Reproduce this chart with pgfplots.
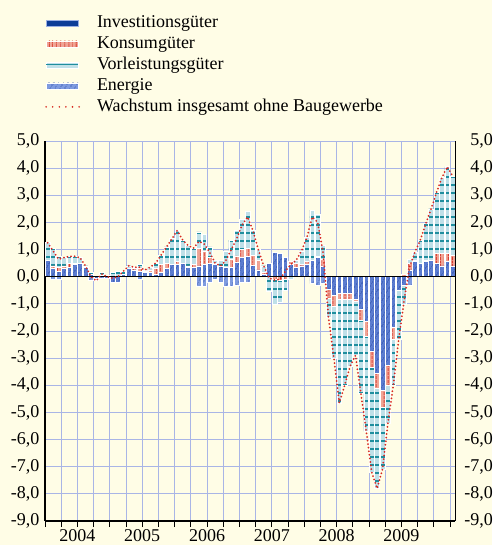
\documentclass[border=0pt]{standalone}
\usepackage{fontspec}
\setmainfont{Liberation Serif}
\usepackage{pgfplots}
\usepackage{pgfplotstable}
\pgfplotsset{compat=1.18}
\usetikzlibrary{patterns,patterns.meta,backgrounds}

\definecolor{cream}{HTML}{FFFDE6}
\definecolor{gridblue}{HTML}{A9B5E6}
\definecolor{invfill}{HTML}{5A7BD0}
\definecolor{invline}{HTML}{1E3E98}
\definecolor{invdark}{HTML}{0D3D97}
\definecolor{konfill}{HTML}{F0A494}
\definecolor{konline}{HTML}{D6362A}
\definecolor{vorfill}{HTML}{BFE0E8}
\definecolor{vorline}{HTML}{1F8E9E}
\definecolor{enefill}{HTML}{7F9BE0}
\definecolor{eneline}{HTML}{3A58B0}
\definecolor{linered}{HTML}{D8281F}

% m = month index (0 = Jan 2004)
\pgfplotstableread{
m inv kon vor ene tot
0 0.60 0.00 0.65 0.00 1.25
1 0.30 0.10 0.65 -0.10 0.95
2 0.20 0.15 0.40 -0.10 0.65
3 0.30 0.10 0.30 0.00 0.70
4 0.35 0.15 0.25 0.00 0.75
5 0.45 0.05 0.25 0.00 0.75
6 0.50 0.00 0.20 0.00 0.70
7 0.35 0.00 0.05 0.00 0.40
8 0.10 0.00 0.05 -0.15 0.00
9 -0.05 0.00 -0.05 -0.05 -0.15
10 0.05 0.00 0.10 -0.05 0.10
11 0.00 0.00 0.05 -0.05 0.00
12 -0.20 0.00 0.15 0.00 -0.05
13 -0.20 0.00 0.20 0.00 0.00
14 0.10 0.00 0.10 0.00 0.20
15 0.30 0.00 0.10 0.00 0.40
16 0.25 0.05 0.05 0.00 0.35
17 0.20 0.10 0.15 -0.10 0.35
18 0.15 0.05 0.05 0.00 0.25
19 0.15 0.10 0.10 0.00 0.35
20 0.10 0.20 0.20 0.00 0.50
21 0.15 0.30 0.35 0.00 0.80
22 0.30 0.20 0.60 0.00 1.10
23 0.45 0.00 0.95 0.00 1.40
24 0.45 0.10 1.15 0.00 1.70
25 0.50 0.00 0.85 0.00 1.35
26 0.35 0.05 0.75 0.00 1.15
27 0.33 0.12 0.60 0.00 1.05
28 0.40 0.65 0.60 -0.35 1.30
29 0.45 0.50 0.60 -0.35 1.20
30 0.50 0.20 0.40 -0.20 0.90
31 0.45 0.05 0.10 -0.10 0.50
32 0.40 0.00 0.20 -0.20 0.40
33 0.35 0.00 0.60 -0.35 0.60
34 0.33 0.30 0.72 -0.35 1.00
35 0.52 0.25 0.93 -0.30 1.40
36 0.70 0.30 1.10 -0.20 1.90
37 0.74 0.30 1.36 -0.20 2.20
38 0.43 0.37 0.90 0.00 1.70
39 0.25 0.35 0.40 0.00 1.00
40 0.10 0.05 0.25 0.00 0.40
41 0.50 0.00 -0.55 0.00 -0.05
42 0.90 -0.10 -0.92 0.00 -0.12
43 0.85 -0.15 -0.80 0.00 -0.10
44 0.70 -0.10 -0.40 0.00 0.20
45 0.45 0.10 -0.10 0.00 0.45
46 0.35 0.15 0.10 0.00 0.60
47 0.40 0.05 0.50 0.00 0.95
48 0.45 0.10 0.90 0.00 1.45
49 0.60 0.00 1.85 -0.25 2.20
50 0.70 0.05 1.55 -0.30 2.00
51 0.40 0.25 0.50 -0.25 0.90
52 -0.45 -0.35 -0.70 0.00 -1.50
53 -0.70 -0.40 -1.90 0.00 -3.00
54 -0.60 -0.25 -3.80 0.00 -4.65
55 -0.60 -0.25 -3.15 0.00 -4.00
56 -0.60 -0.25 -2.45 0.00 -3.30
57 -0.85 -0.05 -2.00 0.00 -2.90
58 -1.20 -0.40 -2.70 0.00 -4.30
59 -1.65 -0.55 -3.50 0.00 -5.70
60 -2.75 -0.60 -3.85 0.00 -7.20
61 -3.55 -0.55 -3.70 0.00 -7.80
62 -4.20 -0.60 -2.30 0.00 -7.10
63 -3.25 -0.75 -1.40 0.00 -5.40
64 -1.85 -0.45 -1.70 0.00 -4.00
65 -0.50 0.00 -1.80 0.00 -2.30
66 -0.30 0.10 -0.70 0.00 -0.90
67 0.25 0.25 0.15 -0.30 0.35
68 0.55 0.05 0.30 0.00 0.90
69 0.50 0.00 0.85 0.00 1.35
70 0.55 0.05 1.35 0.00 1.95
71 0.60 0.00 1.90 0.00 2.50
72 0.50 0.35 2.25 0.00 3.10
73 0.40 0.45 2.80 0.00 3.65
74 0.55 0.30 3.20 0.00 4.05
75 0.40 0.40 2.90 0.00 3.70
}\data

\pgfplotsset{
  basebar/.style={ybar, bar width=4.8pt, bar shift=0pt, draw=white, line width=0.6pt, forget plot},
  invbar/.style={basebar, fill=invfill, postaction={pattern={Lines[angle=60,distance=4pt,line width=0.9pt]}, pattern color=invline}},
  konbar/.style={basebar, fill=konfill, postaction={pattern={Lines[angle=90,distance=4pt,line width=1.2pt]}, pattern color=konline}},
  vorbar/.style={basebar, fill=vorfill, postaction={pattern={Lines[angle=0,distance=8pt,line width=1.5pt]}, pattern color=vorline}},
  enebar/.style={basebar, fill=enefill, postaction={pattern={Lines[angle=60,distance=4pt,line width=0.8pt]}, pattern color=eneline}},
  numfmt/.style={/pgf/number format/fixed, /pgf/number format/fixed zerofill, /pgf/number format/precision=1, /pgf/number format/use comma, /pgf/number format/assume math mode=true},
}

\begin{document}
\begin{tikzpicture}[font=\fontsize{18}{21}\selectfont]
\useasboundingbox (0,0) rectangle (492pt,-545pt);
\begin{axis}[
  at={(45pt,-521pt)}, anchor=south west,
  scale only axis, width=410.4pt, height=380pt,
  xmin=-0.5, xmax=75.5, ymin=-9, ymax=5,
  axis x line*=bottom, axis y line*=left,
  axis line style={black, line width=1.2pt, -},
  xtick={-0.5,2.5,...,74.5}, xticklabels={},
  ytick={-9,-8,...,5},
  yticklabel style={numfmt, xshift=4pt},
  tick align=outside, major tick length=6pt,
  xtick style={black, line width=1pt},
  ytick style={draw=none},
  grid=major, major grid style={gridblue, line width=0.9pt},
  extra x ticks={5.5,17.5,29.5,41.5,53.5,65.5},
  extra x tick labels={2004,2005,2006,2007,2008,2009},
  extra x tick style={xmajorgrids=false, major tick length=0pt, xtick style={draw=none}, xticklabel style={yshift=-5pt}},
  legend cell align=left,
  legend style={draw=none, fill=none, at={(axis description cs:0.0,1.339)}, anchor=north west,
    inner sep=0pt, row sep=0pt,
    nodes={inner xsep=2pt, inner ysep=2pt, text height=13pt, text depth=4pt},
    /tikz/every odd column/.append style={column sep=14pt}},
]
\addlegendimage{legend image code/.code={\draw[fill=invdark, draw=invfill!60, line width=0.6pt] (0pt,-3pt) rectangle (32pt,3pt);}}
\addlegendentry{Investitionsgüter}
\addlegendimage{legend image code/.code={\draw[fill=konfill, draw=white, line width=0.6pt, postaction={pattern={Lines[angle=90,distance=4pt,line width=1pt]}, pattern color=konline}] (0pt,-3pt) rectangle (32pt,3pt);}}
\addlegendentry{Konsumgüter}
\addlegendimage{legend image code/.code={\draw[fill=vorfill, draw=white, line width=0.6pt] (0pt,-3pt) rectangle (32pt,3pt); \draw[vorline, line width=1.2pt] (0pt,0pt) -- (32pt,0pt);}}
\addlegendentry{Vorleistungsgüter}
\addlegendimage{legend image code/.code={\draw[fill=enefill, draw=white, line width=0.6pt, postaction={pattern={Lines[angle=60,distance=4pt,line width=0.8pt]}, pattern color=eneline}] (0pt,-3pt) rectangle (32pt,3pt);}}
\addlegendentry{Energie}
\addlegendimage{legend image code/.code={\draw[linered, line width=1.8pt, line cap=round, dash pattern=on 0pt off 6.6pt] (0pt,0pt) -- (34pt,0pt);}}
\addlegendentry{Wachstum insgesamt ohne Baugewerbe}

% positive side (cumulative, drawn from the top segment down)
\addplot[enebar] table[x=m, y expr={max(\thisrow{inv},0)+max(\thisrow{kon},0)+max(\thisrow{vor},0)+max(\thisrow{ene},0)}]{\data};
\addplot[vorbar] table[x=m, y expr={max(\thisrow{inv},0)+max(\thisrow{kon},0)+max(\thisrow{vor},0)}]{\data};
\addplot[konbar] table[x=m, y expr={max(\thisrow{inv},0)+max(\thisrow{kon},0)}]{\data};
\addplot[invbar] table[x=m, y expr={max(\thisrow{inv},0)}]{\data};
% negative side
\addplot[enebar] table[x=m, y expr={min(\thisrow{inv},0)+min(\thisrow{kon},0)+min(\thisrow{vor},0)+min(\thisrow{ene},0)}]{\data};
\addplot[vorbar] table[x=m, y expr={min(\thisrow{inv},0)+min(\thisrow{kon},0)+min(\thisrow{vor},0)}]{\data};
\addplot[konbar] table[x=m, y expr={min(\thisrow{inv},0)+min(\thisrow{kon},0)}]{\data};
\addplot[invbar] table[x=m, y expr={min(\thisrow{inv},0)}]{\data};

\draw[black, line width=1.2pt] (axis cs:-0.5,0) -- (axis cs:75.5,0);

\addplot[linered, line width=2pt, line cap=round, dash pattern=on 0pt off 3.6pt, forget plot] table[x=m, y=tot]{\data};
\end{axis}

\begin{axis}[
  at={(45pt,-521pt)}, anchor=south west,
  scale only axis, width=410.4pt, height=380pt,
  xmin=-0.5, xmax=75.5, ymin=-9, ymax=5,
  axis x line=none, axis y line*=right,
  axis line style={black, line width=1.2pt, -},
  ytick={-9,-8,...,5},
  ytick style={draw=none},
  yticklabel style={numfmt, anchor=east, xshift=41pt},
]
\addplot[draw=none, forget plot] coordinates {(0,0)};
\end{axis}

\begin{scope}[on background layer]
\fill[cream] (0,0) rectangle (492pt,-545pt);
\end{scope}
\end{tikzpicture}
\end{document}
